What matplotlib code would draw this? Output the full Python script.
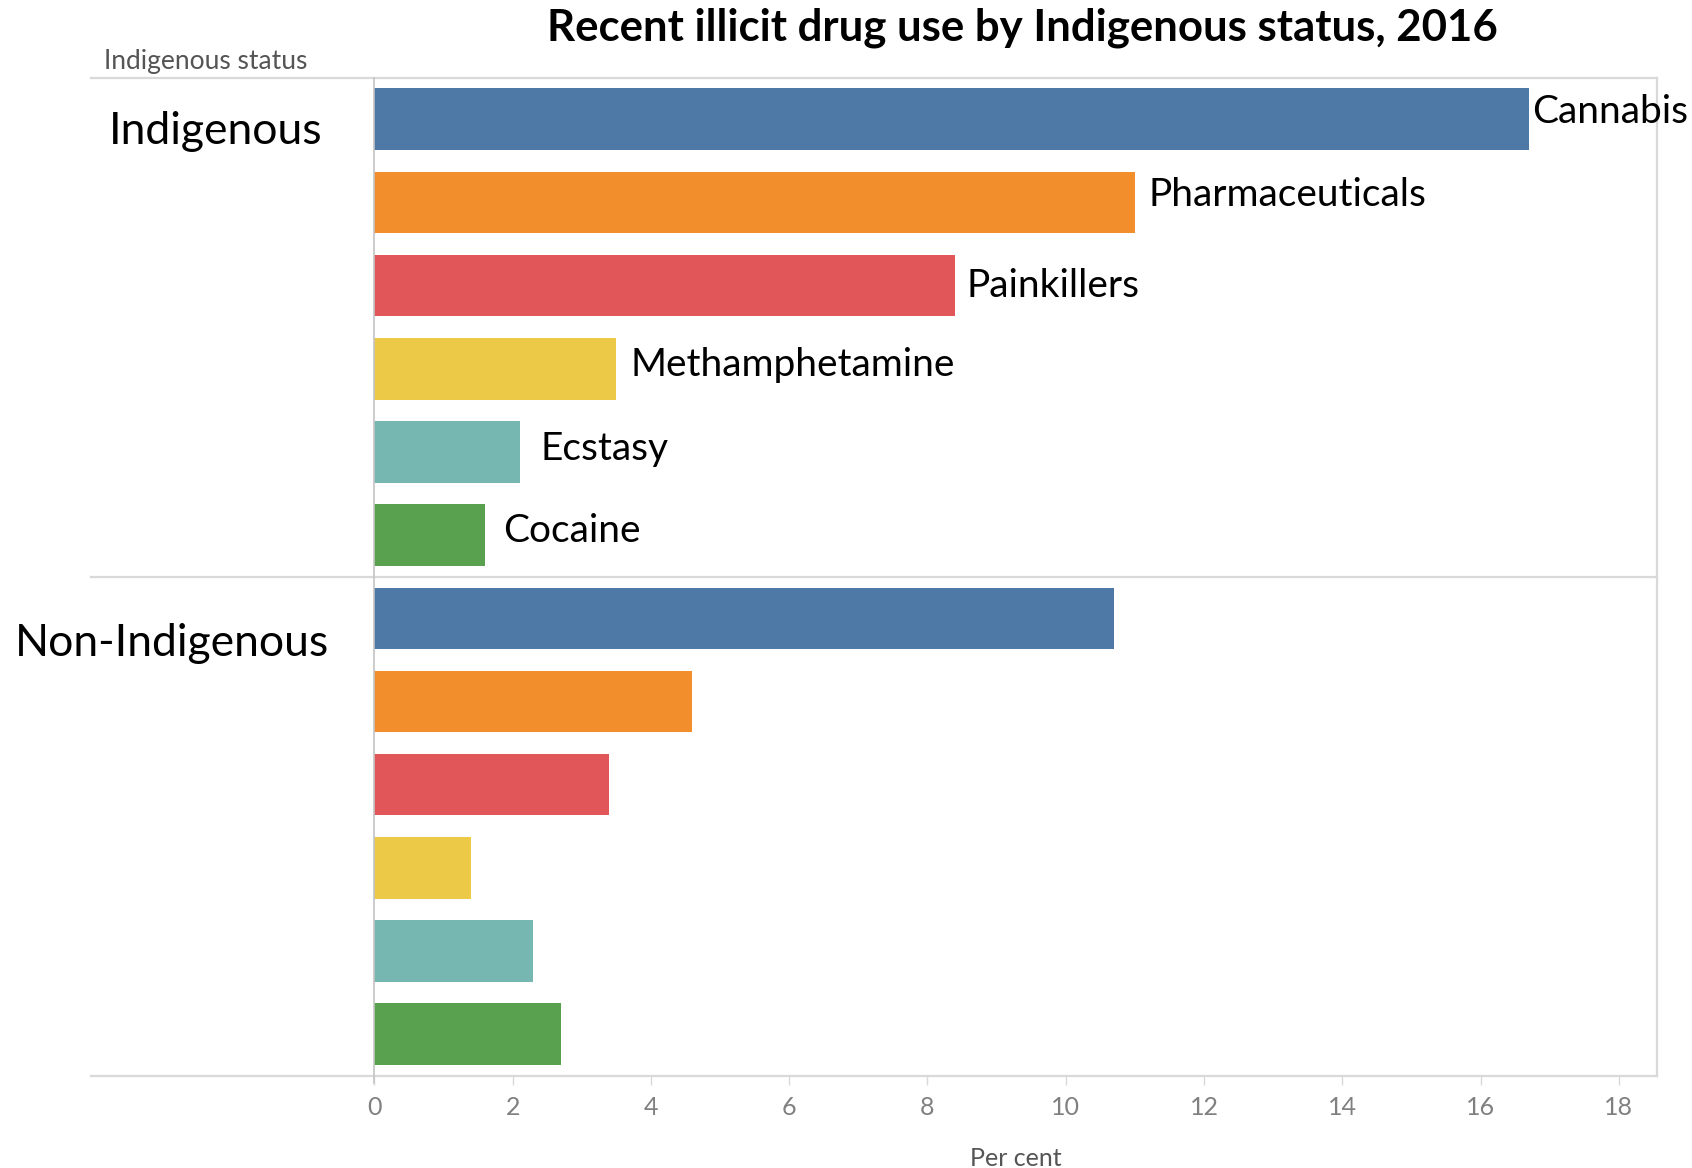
import matplotlib
matplotlib.use('Agg')
import matplotlib.pyplot as plt
import numpy as np

# Recent illicit drug use (%), 2016
drugs = ['Cannabis', 'Pharmaceuticals', 'Painkillers', 'Methamphetamine', 'Ecstasy', 'Cocaine']
indigenous = [16.7, 11.0, 8.4, 3.5, 2.1, 1.6]
non_indigenous = [10.7, 4.6, 3.4, 1.4, 2.3, 2.7]
groups = ['Indigenous', 'Non-Indigenous']
xticks = [0, 2, 4, 6, 8, 10, 12, 14, 16, 18]

colors = ['#4e79a7', '#f28e2b', '#e15759', '#edc948', '#76b7b2', '#59a14f']
grid_col = '#d9d9d9'
text_grey = '#555555'

plt.rcParams['font.family'] = ['Lato', 'DejaVu Sans']

fig = plt.figure(figsize=(16.92, 11.68), dpi=100)
ax = fig.add_axes([0.2213, 0.0789, 0.7583, 0.8546])

n = len(drugs)
vals = indigenous + non_indigenous
ypos = np.arange(2 * n)
ax.barh(ypos, vals, height=0.74, color=colors * 2)

ax.set_xlim(0, 18.56)
ax.set_ylim(2 * n - 0.5, -0.5)

# drug names next to the indigenous bars
pads = [2, 10, 8, 10, 15, 13]
lifts = [5, 5, 0, 3, 2, 3]
for i, name in enumerate(drugs):
    ax.annotate(name, (indigenous[i], ypos[i]), xytext=(pads[i], lifts[i]),
                textcoords='offset points', va='center', ha='left',
                fontsize=28, color='black', annotation_clip=False)

# group labels on the left
shifts = [0.15, 0.3]
right_edge = [-0.75, -0.65]
for g, name in enumerate(groups):
    ax.text(right_edge[g], g * n + shifts[g], name, ha='right', va='center',
            fontsize=32, color='black', clip_on=False)

# frame and separators
for s in ['top', 'right', 'bottom']:
    ax.spines[s].set_visible(False)
ax.spines['left'].set_color('#c4c4c4')
ax.spines['left'].set_linewidth(1.2)
ax.spines['left'].set_bounds(2 * n - 0.5 + 0.09, -0.5)
for yy in [0, 0.5, 1]:
    ax.plot([-0.2212, 1], [yy, yy], transform=ax.transAxes, color=grid_col,
            lw=1.6, clip_on=False)
ax.plot([1, 1], [0, 1], transform=ax.transAxes, color=grid_col, lw=1.6, clip_on=False)

ax.set_yticks([])
ax.set_xticks(xticks)
ax.set_xticklabels([str(t) for t in xticks])
ax.tick_params(axis='x', length=6.5, width=1, color=grid_col, labelcolor='#808080',
               labelsize=18, pad=8)
ax.set_xlabel('Per cent', fontsize=18, color=text_grey, labelpad=20)

fig.text(0.0615, 0.9475, 'Indigenous status', fontsize=19, color=text_grey,
         ha='left', va='center')
fig.text(0.604, 0.976, 'Recent illicit drug use by Indigenous status, 2016',
         fontsize=31.5, fontweight='bold', ha='center', va='center')

fig.savefig('out.png', dpi=100)
